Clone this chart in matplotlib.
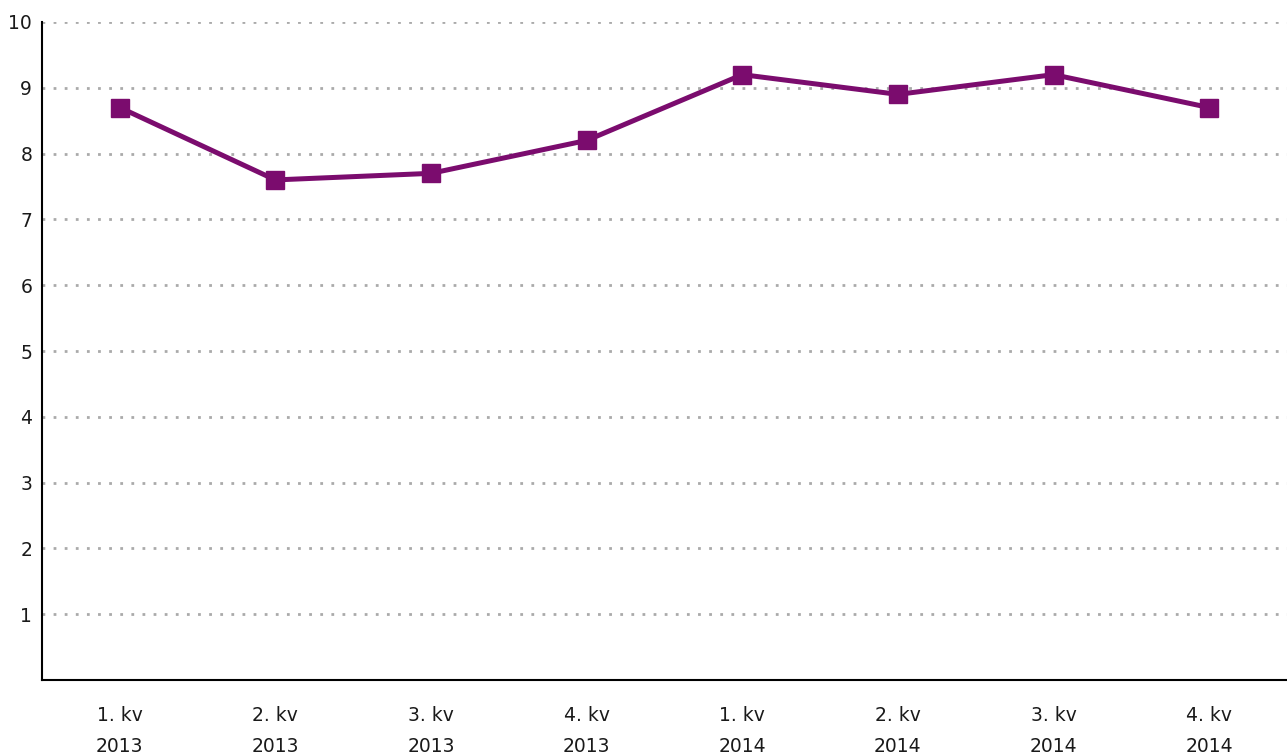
import matplotlib
matplotlib.use('Agg')
import matplotlib.pyplot as plt
import numpy as np

quarters = ['1. kv', '2. kv', '3. kv', '4. kv', '1. kv', '2. kv', '3. kv', '4. kv']
years = ['2013', '2013', '2013', '2013', '2014', '2014', '2014', '2014']
values = [8.7, 7.6, 7.7, 8.2, 9.2, 8.9, 9.2, 8.7]

purple = '#7b0c6e'

fig = plt.figure(figsize=(12.87, 7.56), dpi=100, facecolor='w')
ax = fig.add_axes([0.0326, 0.1005, 0.9674, 0.8704])

x = np.arange(len(values))
ax.plot(x, values, color=purple, linewidth=3.6, marker='s',
        markersize=12.5, zorder=3)

ax.set_xlim(-0.5, 7.5)
ax.set_ylim(0, 10)
ax.set_yticks(range(1, 11))
ax.set_xticks(x)
ax.set_xticklabels([q + '\n' + y for q, y in zip(quarters, years)],
                   fontsize=13.5, linespacing=1.75, color='#1a1a1a')
ax.tick_params(axis='y', labelsize=13.5, length=0, pad=7, labelcolor='#1a1a1a')
ax.tick_params(axis='x', length=0, pad=19)

ax.grid(axis='y', linestyle=(0, (1, 3)), color='#aaaaaa', linewidth=2)
ax.spines['top'].set_visible(False)
ax.spines['right'].set_visible(False)
ax.spines['left'].set_linewidth(1.5)
ax.spines['bottom'].set_linewidth(1.5)

plt.savefig('out.png', dpi=100)
plt.close()
